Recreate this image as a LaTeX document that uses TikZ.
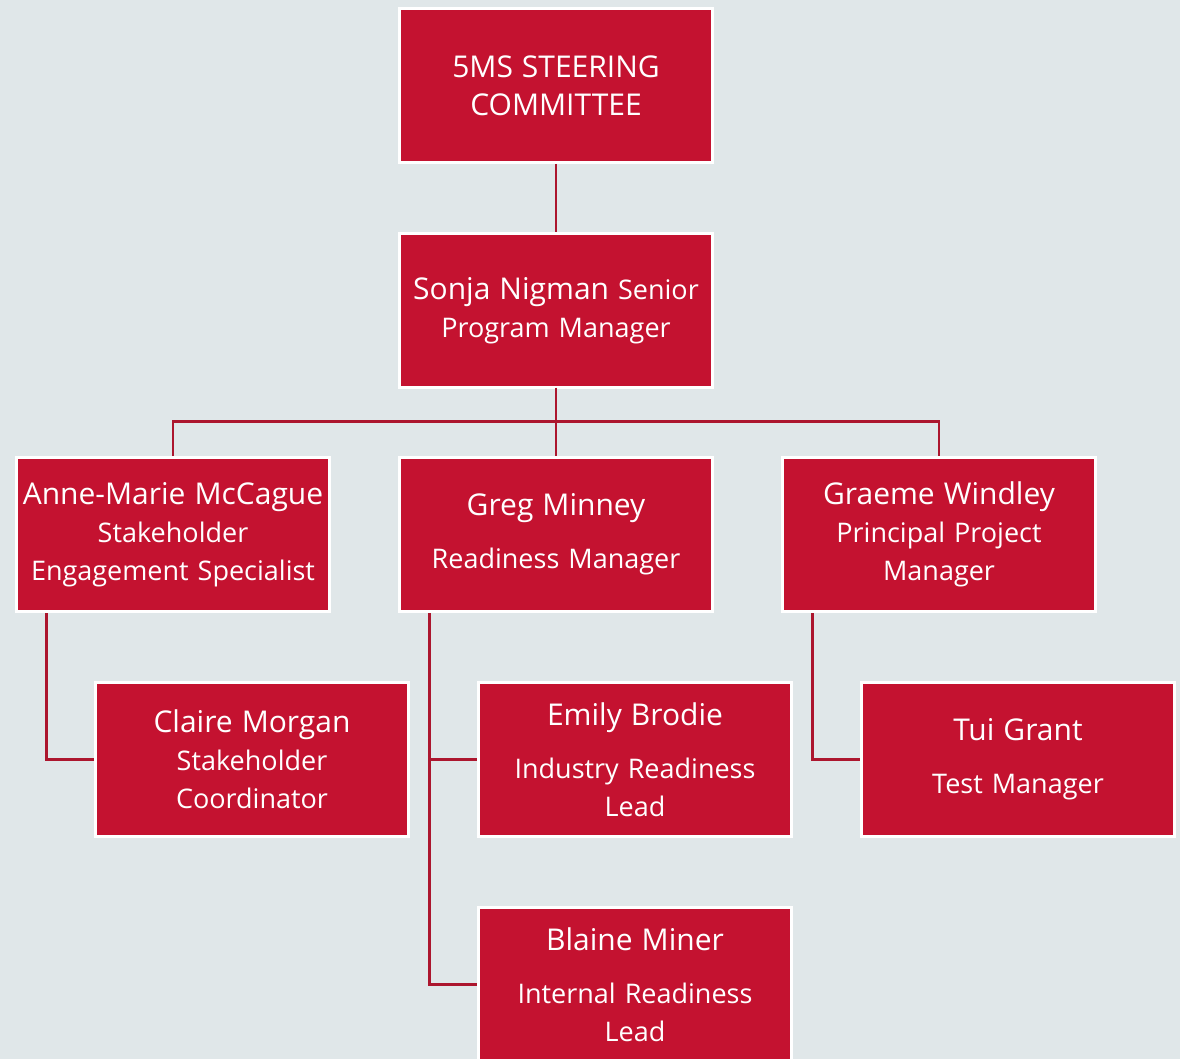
\documentclass[tikz,border=0pt]{standalone}
\usepackage{fontspec}
\setmainfont{Open Sans}
\usetikzlibrary{positioning}

\definecolor{boxred}{RGB}{196,18,48}
\definecolor{linered}{RGB}{172,22,46}
\definecolor{bggray}{RGB}{224,231,233}

\newcommand{\who}[1]{{\fontsize{30}{38}\selectfont #1}}

\tikzset{
  person/.style={draw=white,fill=boxred,line width=3pt,outer sep=0pt,
    minimum width=313pt,minimum height=154pt,inner sep=2pt,
    text=white,text width=305pt,align=center,font=\fontsize{27}{38}\selectfont},
  link/.style={draw=linered,line width=2.5pt,shorten <=1.5pt,shorten >=1.5pt}
}

\begin{document}
\begin{tikzpicture}[x=1pt,y=-1pt]
    \useasboundingbox[fill=bggray] (0,0) rectangle (1180,1059);

    \node[person] (steer) at (556,85.5) {\who{5MS STEERING}\\\who{COMMITTEE}};
    \node[person] (sonja) at ([yshift=-71pt]steer.south) [anchor=north] {\who{Sonja Nigman} Senior\\Program Manager};

    % zweite Ebene
    \node[person] (greg) at ([yshift=-70pt]sonja.south) [anchor=north] {\who{Greg Minney}\\[15pt]Readiness Manager};
    \node[person] (anne) at ([xshift=-70pt]greg.west) [anchor=east] {\who{Anne-Marie McCague}\\Stakeholder\\Engagement Specialist};
    \node[person] (graeme) at ([xshift=70pt]greg.east) [anchor=west] {\who{Graeme Windley}\\Principal Project\\Manager};

    % dritte Ebene
    \node[person] (claire) at ([xshift=79pt,yshift=-71pt]anne.south west) [anchor=north west] {\who{Claire Morgan}\\Stakeholder\\Coordinator};
    \node[person] (emily) at ([xshift=79pt,yshift=-71pt]greg.south west) [anchor=north west] {\who{Emily Brodie}\\[15pt]Industry Readiness\\Lead};
    \node[person] (tui) at ([xshift=79pt,yshift=-71pt]graeme.south west) [anchor=north west] {\who{Tui Grant}\\[15pt]Test Manager};
    \node[person] (blaine) at ([yshift=-71pt]emily.south west) [anchor=north west] {\who{Blaine Miner}\\[15pt]Internal Readiness\\Lead};

    % Verbindungen
    \draw[link] (steer) -- (sonja);
    \coordinate (bus) at ([yshift=-34pt]sonja.south);
    \draw[link,shorten <=0pt] (sonja.south) -- (bus);
    \draw[link] (anne.north) |- (bus) -| (graeme.north);
    \draw[link,shorten <=0pt] (bus) -- (greg.north);
    \draw[link] ([xshift=30pt]anne.south west) |- (claire.west);
    \draw[link] ([xshift=30pt]greg.south west) |- (emily.west);
    \draw[link] ([xshift=30pt]greg.south west) |- (blaine.west);
    \draw[link] ([xshift=30pt]graeme.south west) |- (tui.west);
\end{tikzpicture}
\end{document}
